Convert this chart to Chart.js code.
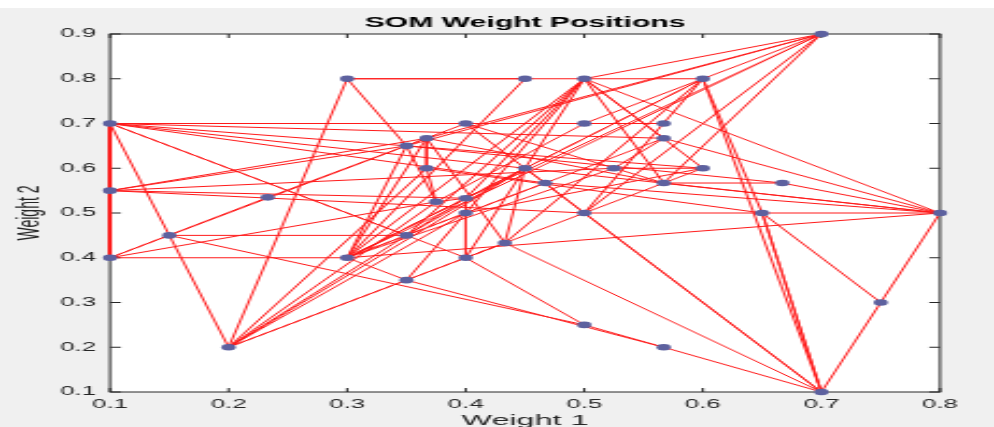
<!DOCTYPE html>
<html>
<head>
<meta charset="utf-8">
<script src="https://cdn.jsdelivr.net/npm/chart.js@4/dist/chart.umd.min.js"></script>
<style>
  html, body { margin: 0; padding: 0; background: #f0f0f0; overflow: hidden; }
  #wrap { width: 994px; height: 427px; position: relative; }
  #c { position: absolute; left: 0; top: 0; transform-origin: 0 0; }
</style>
</head>
<body>
<div id="wrap"><canvas id="c" width="462" height="427"></canvas></div>
<script>
// ---- data ----
const chartTitle = 'SOM Weight Positions';
const xAxisTitle = 'Weight 1';
const yAxisTitle = 'Weight 2';

const xTickValues = [0.1, 0.2, 0.3, 0.4, 0.5, 0.6, 0.7, 0.8];
const xTickLabels = ['0.1', '0.2', '0.3', '0.4', '0.5', '0.6', '0.7', '0.8'];
const yTickValues = [0.1, 0.2, 0.3, 0.4, 0.5, 0.6, 0.7, 0.8, 0.9];
const yTickLabels = ['0.1', '0.2', '0.3', '0.4', '0.5', '0.6', '0.7', '0.8', '0.9'];

// neuron weight positions (node numbers 1..39 in this order)
const weightX = [0.1, 0.1, 0.1, 0.15, 0.2, 0.233, 0.3, 0.3, 0.35, 0.35,
                 0.35, 0.367, 0.367, 0.375, 0.4, 0.4, 0.4, 0.4, 0.433, 0.45,
                 0.45, 0.467, 0.5, 0.5, 0.5, 0.5, 0.525, 0.567, 0.567, 0.567,
                 0.567, 0.6, 0.6, 0.667, 0.65, 0.7, 0.7, 0.75, 0.8];
const weightY = [0.7, 0.55, 0.4, 0.45, 0.2, 0.535, 0.8, 0.4, 0.65, 0.45,
                 0.35, 0.667, 0.6, 0.525, 0.7, 0.533, 0.5, 0.4, 0.433, 0.8,
                 0.6, 0.567, 0.8, 0.7, 0.5, 0.25, 0.6, 0.7, 0.667, 0.567,
                 0.2, 0.8, 0.6, 0.567, 0.5, 0.9, 0.1, 0.3, 0.5];

// neighbour connections (node numbers, 1-based)
const edgeFrom = [1, 2, 1, 1, 1, 1, 1, 1, 1, 1, 1,
                  2, 2, 2, 2, 2,
                  3, 3, 3, 3,
                  4, 4, 4,
                  5, 5, 5, 5, 5, 5, 5, 5,
                  6, 7, 7, 7,
                  8, 8, 8, 8, 8, 8, 8, 8, 8, 8, 8,
                  9, 9, 9, 11, 11, 12, 12, 12, 13, 13, 14, 14, 15, 15,
                  16, 16, 16, 17, 17, 17, 18, 18, 18, 19, 19, 19,
                  20, 21, 21, 22, 22, 23, 23, 23, 23, 23, 24,
                  25, 25, 25, 25, 26, 27, 27, 29, 30, 30,
                  31, 32, 32, 34, 35, 35, 35, 35,
                  36, 36, 36, 36, 36, 36, 36, 36,
                  37, 38, 10, 10];
const edgeTo   = [2, 3, 3, 5, 28, 29, 33, 10, 18, 22, 39,
                  9, 12, 16, 25, 27,
                  8, 4, 6, 14,
                  10, 9, 26,
                  7, 13, 16, 17, 19, 21, 25, 14,
                  15, 20, 23, 9,
                  9, 12, 16, 21, 22, 23, 32, 27, 39, 29, 11,
                  12, 34, 14, 31, 17, 13, 19, 30, 14, 35, 16, 24, 21, 30,
                  17, 23, 32, 18, 23, 33, 19, 23, 26, 21, 32, 37,
                  8, 22, 37, 25, 39, 29, 32, 33, 39, 30, 28,
                  35, 37, 32, 33, 31, 33, 29, 39, 34, 39,
                  37, 35, 37, 39, 37, 37, 38, 39,
                  23, 24, 12, 9, 16, 25, 30, 8,
                  38, 39, 21, 23];

// ---- build datasets ----
const FONT = '"Liberation Sans", Arial, Helvetica, sans-serif';
const pointData = weightX.map((x, i) => ({ x: x, y: weightY[i] }));

const edgeDatasets = edgeFrom.map((a, k) => {
  const b = edgeTo[k];
  return {
    data: [pointData[a - 1], pointData[b - 1]],
    showLine: true,
    borderColor: '#ff1a1a',
    borderWidth: 1,
    pointRadius: 0,
    pointHoverRadius: 0,
    clip: false,
    order: 2
  };
});

const pointDataset = {
  data: pointData,
  showLine: false,
  pointRadius: 3.3,
  pointHoverRadius: 3.3,
  pointBackgroundColor: '#5d619f',
  pointBorderWidth: 0,
  borderWidth: 0,
  clip: false,
  order: 0
};

const W = 462, H = 427;
const SX = 994 / W;
document.getElementById('c').style.transform = 'scaleX(' + SX + ')';

const PLOT_LEFT = 110 / SX, PLOT_RIGHT = 940 / SX;

const framePlugin = {
  id: 'frame',
  beforeDraw(chart) {
    const ctx = chart.ctx, a = chart.chartArea;
    ctx.save();
    ctx.fillStyle = '#f0f0f0';
    ctx.fillRect(0, 0, W, H);
    ctx.fillStyle = '#ffffff';
    ctx.fillRect(0, 0, W, 8);
    ctx.fillRect(a.left, a.top, a.right - a.left, a.bottom - a.top);
    ctx.restore();
  },
  beforeDatasetsDraw(chart) {
    const ctx = chart.ctx, a = chart.chartArea;
    const xs = chart.scales.x, ys = chart.scales.y;
    ctx.save();
    ctx.strokeStyle = '#262626';
    ctx.lineWidth = 1;
    ctx.beginPath();
    xTickValues.forEach(v => {
      const px = xs.getPixelForValue(v);
      ctx.moveTo(px, a.bottom); ctx.lineTo(px, a.bottom - 4);
      ctx.moveTo(px, a.top); ctx.lineTo(px, a.top + 4);
    });
    yTickValues.forEach(v => {
      const py = ys.getPixelForValue(v);
      ctx.moveTo(a.left, py); ctx.lineTo(a.left + 5, py);
      ctx.moveTo(a.right, py); ctx.lineTo(a.right - 5, py);
    });
    ctx.stroke();
    ctx.strokeRect(a.left, a.top, a.right - a.left, a.bottom - a.top);
    ctx.restore();
  }
};

new Chart(document.getElementById('c'), {
  type: 'scatter',
  data: { datasets: [pointDataset].concat(edgeDatasets) },
  options: {
    responsive: false,
    animation: false,
    devicePixelRatio: 1,
    events: [],
    layout: { padding: { left: 0, right: W - PLOT_RIGHT, top: 0, bottom: 0 } },
    plugins: {
      legend: { display: false },
      tooltip: { enabled: false },
      title: {
        display: true,
        text: chartTitle,
        fullSize: false,
        color: '#000000',
        font: { family: FONT, size: 14, weight: 'bold' },
        padding: { top: 14.6, bottom: 2.6 }
      }
    },
    scales: {
      x: {
        type: 'linear',
        min: 0.1, max: 0.8,
        afterBuildTicks: s => { s.ticks = xTickValues.map(v => ({ value: v })); },
        afterFit: s => { s.height = 35; },
        ticks: {
          callback: (v, i) => xTickLabels[i],
          autoSkip: false, maxRotation: 0, minRotation: 0,
          color: '#262626', padding: 5,
          font: { family: FONT, size: 12 }
        },
        grid: { display: false, drawTicks: false },
        border: { display: false },
        title: {
          display: true, text: xAxisTitle, color: '#262626',
          font: { family: FONT, size: 15 },
          padding: { top: 0, bottom: -3 }
        }
      },
      y: {
        type: 'linear',
        min: 0.1, max: 0.9,
        afterBuildTicks: s => { s.ticks = yTickValues.map(v => ({ value: v })); },
        afterFit: s => { s.width = PLOT_LEFT; },
        ticks: {
          callback: (v, i) => yTickLabels[i],
          autoSkip: false,
          color: '#262626', padding: 6.5,
          font: { family: FONT, size: 12 }
        },
        grid: { display: false, drawTicks: false },
        border: { display: false },
        title: {
          display: true, text: yAxisTitle, color: '#262626',
          font: { family: FONT, size: 14 },
          padding: { top: 6, bottom: 0 }
        }
      }
    }
  },
  plugins: [framePlugin]
});
</script>
</body>
</html>
